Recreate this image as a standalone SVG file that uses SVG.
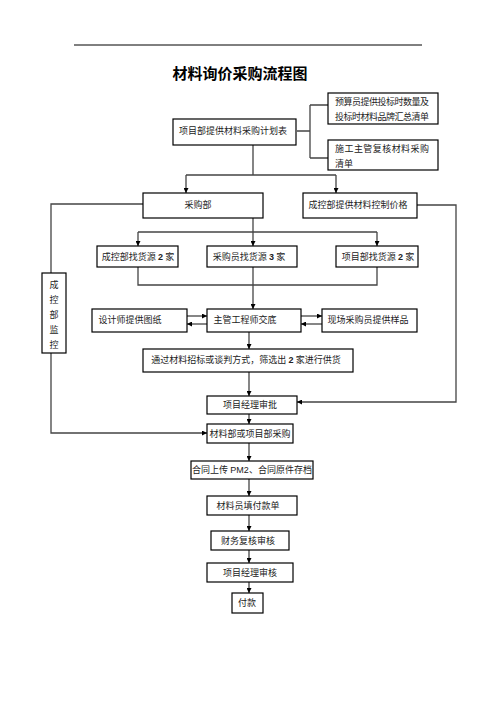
<svg xmlns="http://www.w3.org/2000/svg" width="496" height="702" viewBox="0 0 496 702">
<defs>
<style>
.box{fill:#fff;stroke:#000;stroke-width:1.2}
.t{font-family:"Liberation Serif","Noto Sans CJK SC",serif;font-size:9px;fill:#222;text-anchor:middle}
.tl{font-family:"Liberation Serif","Noto Sans CJK SC",serif;font-size:9px;fill:#222}
.n{font-family:"Liberation Sans",sans-serif;font-weight:bold}
.ln{fill:none;stroke:#444;stroke-width:1.3}
.title{font-family:"Noto Sans CJK SC",sans-serif;font-size:15px;font-weight:bold;fill:#000;text-anchor:middle}
</style>
<marker id="ah" viewBox="0 0 10 10" refX="10" refY="5" markerWidth="5" markerHeight="5" orient="auto" markerUnits="userSpaceOnUse">
<path d="M0,0 L10,5 L0,10 z" fill="#000"/>
</marker>
</defs>
<rect width="496" height="702" fill="#fff"/>
<line x1="74" y1="45" x2="422" y2="45" stroke="#000" stroke-width="1"/>
<text class="title" x="240" y="79">材料询价采购流程图</text>

<g id="connectors">
<path class="ln" d="M297,131 H310 M310,105 V158 M310,105 H328 M310,158 H328"/>
<path class="ln" d="M253,145 V175 M186,175 H336"/>
<path class="ln" d="M186,175 V193" marker-end="url(#ah)"/>
<path class="ln" d="M336,175 V193" marker-end="url(#ah)"/>
<path class="ln" d="M143,204 H51 V273"/>
<path class="ln" d="M51,353 V433 H207" marker-end="url(#ah)"/>
<path class="ln" d="M417,205 H456 V402 H297" marker-end="url(#ah)"/>
<path class="ln" d="M138,232 H377"/>
<path class="ln" d="M253,218 V246" marker-end="url(#ah)"/>
<path class="ln" d="M138,232 V246" marker-end="url(#ah)"/>
<path class="ln" d="M377,232 V246" marker-end="url(#ah)"/>
<path class="ln" d="M138,267 V285 H377 V267"/>
<path class="ln" d="M253,267 V309" marker-end="url(#ah)"/>
<path class="ln" d="M187,316 H207" marker-end="url(#ah)"/>
<path class="ln" d="M207,324 H187" marker-end="url(#ah)"/>
<path class="ln" d="M301,316 H322" marker-end="url(#ah)"/>
<path class="ln" d="M322,324 H301" marker-end="url(#ah)"/>
<path class="ln" d="M249,332 V349" marker-end="url(#ah)"/>
<path class="ln" d="M249,372 V396" marker-end="url(#ah)"/>
<path class="ln" d="M249,414 V424" marker-end="url(#ah)"/>
<path class="ln" d="M249,443 V461" marker-end="url(#ah)"/>
<path class="ln" d="M249,479 V496" marker-end="url(#ah)"/>
<path class="ln" d="M249,515 V531" marker-end="url(#ah)"/>
<path class="ln" d="M249,550 V563" marker-end="url(#ah)"/>
<path class="ln" d="M249,582 V593" marker-end="url(#ah)"/>
</g>

<g id="plan"><rect class="box" x="173" y="119" width="123" height="26"/><text class="t" x="233" y="134">项目部提供材料采购计划表</text></g>
<g id="budget"><rect class="box" x="328" y="93" width="110" height="31"/><text class="tl" x="335" y="105" textLength="94">预算员提供投标时数量及</text><text class="tl" x="335" y="120" textLength="94">投标时材料品牌汇总清单</text></g>
<g id="review"><rect class="box" x="328" y="140" width="110" height="30"/><text class="tl" x="335" y="152" textLength="94">施工主管复核材料采购</text><text class="tl" x="335" y="167">清单</text></g>
<g id="purchase"><rect class="box" x="143" y="193" width="120" height="25"/><text class="t" x="198" y="208">采购部</text></g>
<g id="costprice"><rect class="box" x="303" y="193" width="114" height="25"/><text class="t" x="358" y="208">成控部提供材料控制价格</text></g>
<g id="monitor"><rect class="box" x="42" y="273" width="24" height="80"/>
<text class="t" x="54" y="288">成</text><text class="t" x="54" y="303">控</text><text class="t" x="54" y="318">部</text><text class="t" x="54" y="333">监</text><text class="t" x="54" y="348">控</text></g>
<g id="srcA"><rect class="box" x="97" y="246" width="81" height="21"/><text class="t" x="138" y="260">成控部找货源 <tspan class="n">2</tspan> 家</text></g>
<g id="srcB"><rect class="box" x="207" y="246" width="90" height="21"/><text class="t" x="249" y="260">采购员找货源 <tspan class="n">3</tspan> 家</text></g>
<g id="srcC"><rect class="box" x="336" y="246" width="82" height="21"/><text class="t" x="378" y="260">项目部找货源 <tspan class="n">2</tspan> 家</text></g>
<g id="designer"><rect class="box" x="92" y="309" width="95" height="23"/><text class="t" x="130" y="323">设计师提供图纸</text></g>
<g id="engineer"><rect class="box" x="207" y="309" width="94" height="23"/><text class="t" x="245" y="323">主管工程师交底</text></g>
<g id="sample"><rect class="box" x="322" y="309" width="95" height="23"/><text class="t" x="368" y="323">现场采购员提供样品</text></g>
<g id="tender"><rect class="box" x="143" y="349" width="210" height="23"/><text class="t" x="246" y="363">通过材料招标或谈判方式，筛选出 <tspan class="n">2</tspan> 家进行供货</text></g>
<g id="pmapprove"><rect class="box" x="207" y="396" width="90" height="18"/><text class="t" x="250" y="408">项目经理审批</text></g>
<g id="buy"><rect class="box" x="207" y="424" width="86" height="19"/><text class="t" x="250" y="437">材料部或项目部采购</text></g>
<g id="contract"><rect class="box" x="191" y="461" width="122" height="18"/><text class="t" x="252" y="473">合同上传 <tspan font-family="Liberation Sans, sans-serif">PM2</tspan>、合同原件存档</text></g>
<g id="payform"><rect class="box" x="207" y="496" width="90" height="19"/><text class="t" x="248" y="509">材料员填付款单</text></g>
<g id="finance"><rect class="box" x="211" y="531" width="78" height="19"/><text class="t" x="248" y="544">财务复核审核</text></g>
<g id="pmreview"><rect class="box" x="207" y="563" width="86" height="19"/><text class="t" x="250" y="576">项目经理审核</text></g>
<g id="pay"><rect class="box" x="232" y="593" width="31" height="20"/><text class="t" x="247" y="606">付款</text></g>
</svg>
